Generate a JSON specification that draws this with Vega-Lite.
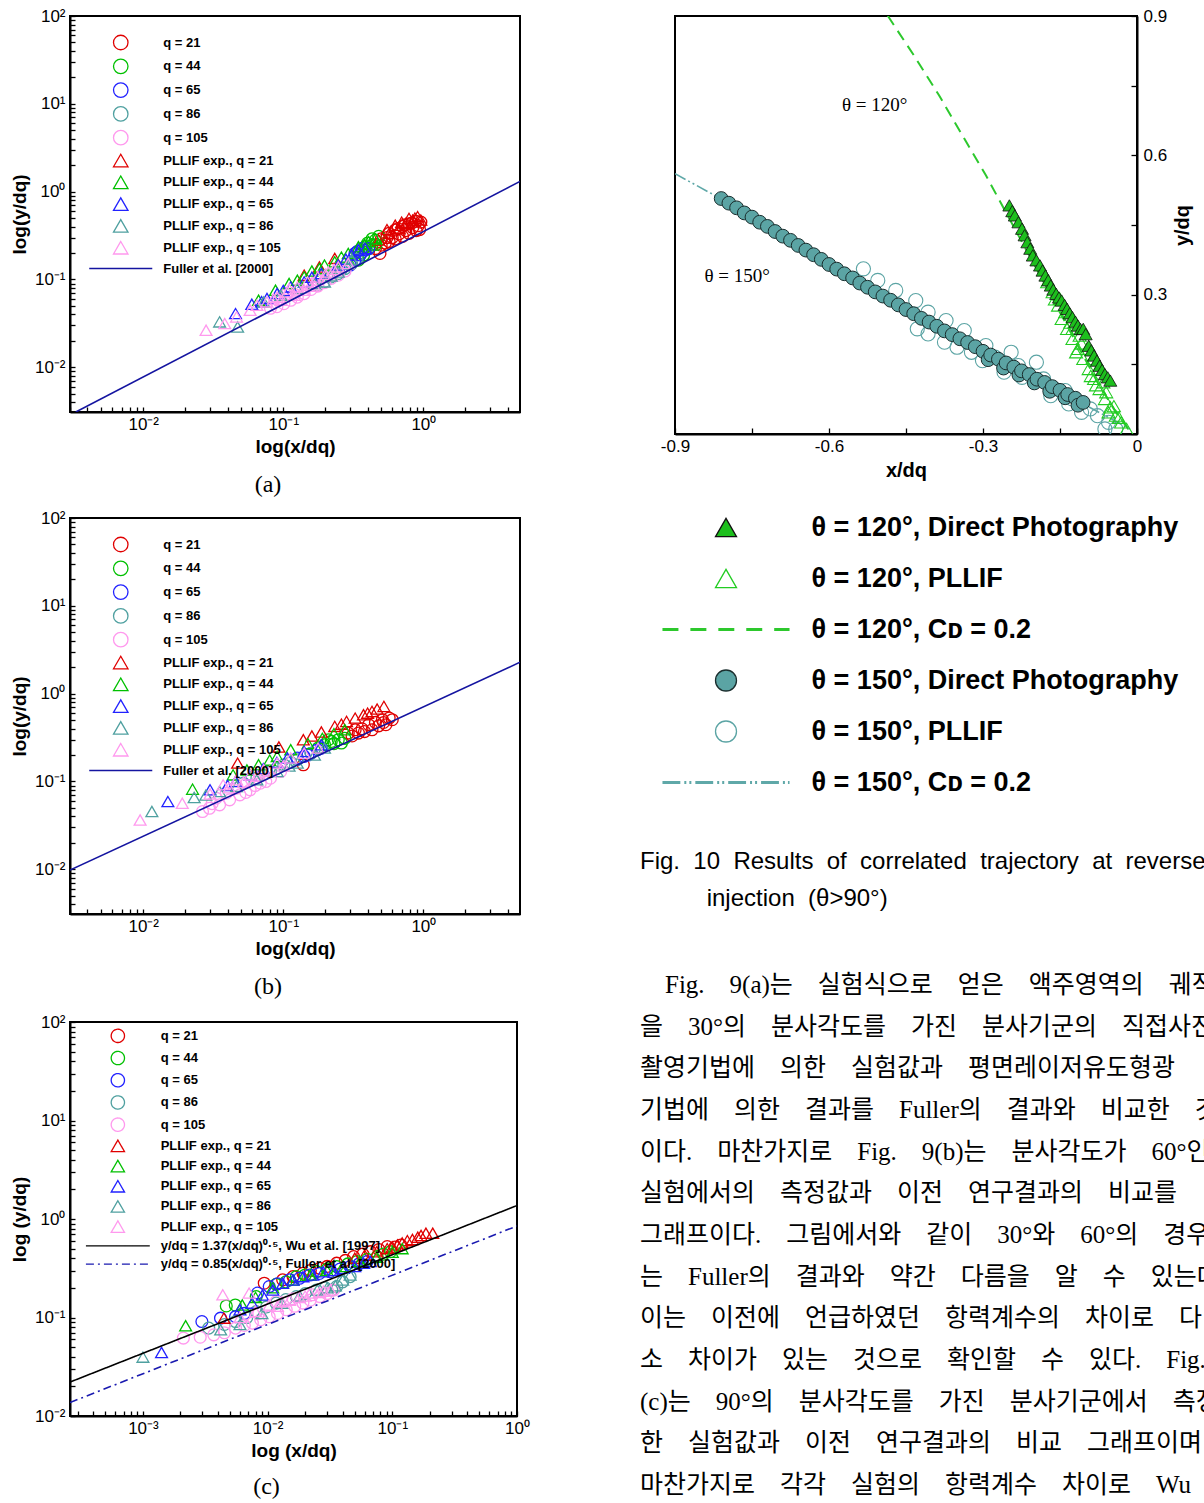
{
"$schema":"https://vega.github.io/schema/vega-lite/v6.json",
"background":"white",
"autosize":{"type":"none"},
"padding":{"left":70,"top":16,"right":1134,"bottom":1487},
"columns":2,
"align":"each",
"bounds":"flush",
"spacing":{"row":84,"column":155},
"resolve":{"scale":{"x":"independent","y":"independent","color":"independent","shape":"independent","fill":"independent","stroke":"independent","strokeDash":"independent"},"legend":{"color":"independent","shape":"independent","fill":"independent","stroke":"independent","strokeDash":"independent"}},
"datasets":{
"pa":[
{"s":"c21","x":0.455,"y":0.225},{"s":"c21","x":0.49,"y":0.198},{"s":"c21","x":0.5,"y":0.246},{"s":"c21","x":0.5,"y":0.29},{"s":"c21","x":0.535,"y":0.26},{"s":"c21","x":0.55,"y":0.3},{"s":"c21","x":0.57,"y":0.27},{"s":"c21","x":0.57,"y":0.335},{"s":"c21","x":0.6,"y":0.3},{"s":"c21","x":0.63,"y":0.29},{"s":"c21","x":0.63,"y":0.366},{"s":"c21","x":0.66,"y":0.38},{"s":"c21","x":0.67,"y":0.33},{"s":"c21","x":0.71,"y":0.31},{"s":"c21","x":0.71,"y":0.4},{"s":"c21","x":0.74,"y":0.42},{"s":"c21","x":0.75,"y":0.36},{"s":"c21","x":0.79,"y":0.335},{"s":"c21","x":0.79,"y":0.43},{"s":"c21","x":0.83,"y":0.44},{"s":"c21","x":0.84,"y":0.39},{"s":"c21","x":0.89,"y":0.36},{"s":"c21","x":0.89,"y":0.46},{"s":"c21","x":0.92,"y":0.41},{"s":"c21","x":0.94,"y":0.37},{"s":"c21","x":0.96,"y":0.45},
{"s":"c44","x":0.344,"y":0.166},{"s":"c44","x":0.36,"y":0.2},{"s":"c44","x":0.375,"y":0.19},{"s":"c44","x":0.385,"y":0.236},{"s":"c44","x":0.4,"y":0.26},{"s":"c44","x":0.407,"y":0.225},{"s":"c44","x":0.43,"y":0.247},{"s":"c44","x":0.43,"y":0.29},{"s":"c44","x":0.455,"y":0.281},{"s":"c44","x":0.46,"y":0.25},{"s":"c44","x":0.48,"y":0.31},
{"s":"c65","x":0.3,"y":0.146},{"s":"c65","x":0.325,"y":0.166},{"s":"c65","x":0.325,"y":0.198},{"s":"c65","x":0.34,"y":0.21},{"s":"c65","x":0.354,"y":0.19},{"s":"c65","x":0.365,"y":0.225},{"s":"c65","x":0.385,"y":0.216},{"s":"c65","x":0.407,"y":0.225},
{"s":"c86","x":0.176,"y":0.086},{"s":"c86","x":0.197,"y":0.094},{"s":"c86","x":0.22,"y":0.107},{"s":"c86","x":0.247,"y":0.117},{"s":"c86","x":0.26,"y":0.13},{"s":"c86","x":0.276,"y":0.133},{"s":"c86","x":0.308,"y":0.152},{"s":"c86","x":0.335,"y":0.17},
{"s":"c105","x":0.081,"y":0.047},{"s":"c105","x":0.09,"y":0.049},{"s":"c105","x":0.095,"y":0.06},{"s":"c105","x":0.101,"y":0.053},{"s":"c105","x":0.107,"y":0.069},{"s":"c105","x":0.113,"y":0.058},{"s":"c105","x":0.12,"y":0.068},{"s":"c105","x":0.126,"y":0.063},{"s":"c105","x":0.126,"y":0.0755},{"s":"c105","x":0.141,"y":0.069},{"s":"c105","x":0.149,"y":0.086},{"s":"c105","x":0.158,"y":0.077},{"s":"c105","x":0.165,"y":0.09},{"s":"c105","x":0.176,"y":0.084},{"s":"c105","x":0.176,"y":0.098},{"s":"c105","x":0.197,"y":0.092},{"s":"c105","x":0.21,"y":0.112},{"s":"c105","x":0.22,"y":0.103},{"s":"c105","x":0.247,"y":0.112},{"s":"c105","x":0.276,"y":0.125},
{"s":"t21","x":0.141,"y":0.112},{"s":"t21","x":0.181,"y":0.139},{"s":"t21","x":0.233,"y":0.174},{"s":"t21","x":0.48,"y":0.281},{"s":"t21","x":0.55,"y":0.37},{"s":"t21","x":0.57,"y":0.335},{"s":"t21","x":0.63,"y":0.415},{"s":"t21","x":0.672,"y":0.38},{"s":"t21","x":0.7,"y":0.45},{"s":"t21","x":0.75,"y":0.435},{"s":"t21","x":0.79,"y":0.497},{"s":"t21","x":0.84,"y":0.475},{"s":"t21","x":0.87,"y":0.5},{"s":"t21","x":0.91,"y":0.52},{"s":"t21","x":0.96,"y":0.475},
{"s":"t44","x":0.0666,"y":0.058},{"s":"t44","x":0.088,"y":0.0755},{"s":"t44","x":0.11,"y":0.09},{"s":"t44","x":0.126,"y":0.098},{"s":"t44","x":0.141,"y":0.107},{"s":"t44","x":0.16,"y":0.125},{"s":"t44","x":0.181,"y":0.133},{"s":"t44","x":0.197,"y":0.146},{"s":"t44","x":0.233,"y":0.159},{"s":"t44","x":0.26,"y":0.18},{"s":"t44","x":0.291,"y":0.198},{"s":"t44","x":0.344,"y":0.236},{"s":"t44","x":0.38,"y":0.25},{"s":"t44","x":0.407,"y":0.27},{"s":"t44","x":0.455,"y":0.29},
{"s":"t65","x":0.0456,"y":0.0409},{"s":"t65","x":0.0596,"y":0.0523},{"s":"t65","x":0.07,"y":0.056},{"s":"t65","x":0.0765,"y":0.0607},{"s":"t65","x":0.0904,"y":0.0692},{"s":"t65","x":0.1,"y":0.075},{"s":"t65","x":0.113,"y":0.0824},{"s":"t65","x":0.141,"y":0.094},{"s":"t65","x":0.16,"y":0.106},{"s":"t65","x":0.187,"y":0.117},{"s":"t65","x":0.247,"y":0.146},{"s":"t65","x":0.28,"y":0.17},{"s":"t65","x":0.308,"y":0.19},{"s":"t65","x":0.344,"y":0.216},{"s":"t65","x":0.385,"y":0.225},
{"s":"t86","x":0.0351,"y":0.0329},{"s":"t86","x":0.0472,"y":0.0288},{"s":"t86","x":0.0725,"y":0.0556},{"s":"t86","x":0.096,"y":0.0663},{"s":"t86","x":0.126,"y":0.079},{"s":"t86","x":0.167,"y":0.09},{"s":"t86","x":0.197,"y":0.094},{"s":"t86","x":0.22,"y":0.11},{"s":"t86","x":0.247,"y":0.122},{"s":"t86","x":0.29,"y":0.15},{"s":"t86","x":0.308,"y":0.17},
{"s":"t105","x":0.0281,"y":0.0264},{"s":"t105","x":0.0382,"y":0.0315},{"s":"t105","x":0.0464,"y":0.0375},{"s":"t105","x":0.058,"y":0.0447},{"s":"t105","x":0.0648,"y":0.0509},{"s":"t105","x":0.0765,"y":0.0556},{"s":"t105","x":0.085,"y":0.06},{"s":"t105","x":0.0904,"y":0.063},{"s":"t105","x":0.096,"y":0.058},{"s":"t105","x":0.107,"y":0.072},{"s":"t105","x":0.11,"y":0.078},{"s":"t105","x":0.12,"y":0.066},{"s":"t105","x":0.126,"y":0.0824},{"s":"t105","x":0.141,"y":0.0755},{"s":"t105","x":0.149,"y":0.094},{"s":"t105","x":0.167,"y":0.084},{"s":"t105","x":0.176,"y":0.107},{"s":"t105","x":0.2,"y":0.115},{"s":"t105","x":0.21,"y":0.122},{"s":"t105","x":0.23,"y":0.13},{"s":"t105","x":0.247,"y":0.139},{"s":"t105","x":0.291,"y":0.152}
],
"la":[{"s":"f","x":0.0033,"y":0.0031},{"s":"f","x":4.9,"y":1.31}],
"pb":[
{"s":"c21","x":0.139,"y":0.155},{"s":"c21","x":0.291,"y":0.356},{"s":"c21","x":0.31,"y":0.33},{"s":"c21","x":0.326,"y":0.388},{"s":"c21","x":0.344,"y":0.356},{"s":"c21","x":0.365,"y":0.398},{"s":"c21","x":0.38,"y":0.37},{"s":"c21","x":0.407,"y":0.443},{"s":"c21","x":0.43,"y":0.388},{"s":"c21","x":0.455,"y":0.471},{"s":"c21","x":0.48,"y":0.43},{"s":"c21","x":0.51,"y":0.505},{"s":"c21","x":0.52,"y":0.47},{"s":"c21","x":0.54,"y":0.443},{"s":"c21","x":0.57,"y":0.527},{"s":"c21","x":0.6,"y":0.505},
{"s":"c44","x":0.177,"y":0.24},{"s":"c44","x":0.197,"y":0.262},{"s":"c44","x":0.21,"y":0.299},{"s":"c44","x":0.22,"y":0.286},{"s":"c44","x":0.23,"y":0.27},{"s":"c44","x":0.247,"y":0.299},{"s":"c44","x":0.26,"y":0.274},{"s":"c44","x":0.275,"y":0.31},
{"s":"c65","x":0.126,"y":0.185},{"s":"c65","x":0.141,"y":0.193},{"s":"c65","x":0.15,"y":0.2},{"s":"c65","x":0.158,"y":0.21},{"s":"c65","x":0.176,"y":0.23},{"s":"c65","x":0.187,"y":0.24},
{"s":"c86","x":0.052,"y":0.0957},{"s":"c86","x":0.0648,"y":0.109},{"s":"c86","x":0.072,"y":0.12},{"s":"c86","x":0.081,"y":0.13},{"s":"c86","x":0.09,"y":0.14},{"s":"c86","x":0.101,"y":0.155},{"s":"c86","x":0.113,"y":0.165},{"s":"c86","x":0.126,"y":0.177},{"s":"c86","x":0.158,"y":0.21},
{"s":"c105","x":0.0265,"y":0.0455},{"s":"c105","x":0.0297,"y":0.0496},{"s":"c105","x":0.031,"y":0.056},{"s":"c105","x":0.0332,"y":0.0645},{"s":"c105","x":0.0351,"y":0.0542},{"s":"c105","x":0.0392,"y":0.0736},{"s":"c105","x":0.0414,"y":0.0618},{"s":"c105","x":0.0464,"y":0.084},{"s":"c105","x":0.049,"y":0.0705},{"s":"c105","x":0.054,"y":0.075},{"s":"c105","x":0.058,"y":0.0804},{"s":"c105","x":0.063,"y":0.09},{"s":"c105","x":0.0685,"y":0.0957},{"s":"c105","x":0.075,"y":0.1},{"s":"c105","x":0.081,"y":0.109},{"s":"c105","x":0.0957,"y":0.13},
{"s":"t21","x":0.0472,"y":0.162},{"s":"t21","x":0.093,"y":0.247},{"s":"t21","x":0.139,"y":0.299},{"s":"t21","x":0.16,"y":0.33},{"s":"t21","x":0.187,"y":0.366},{"s":"t21","x":0.233,"y":0.424},{"s":"t21","x":0.26,"y":0.45},{"s":"t21","x":0.283,"y":0.483},{"s":"t21","x":0.326,"y":0.527},{"s":"t21","x":0.374,"y":0.575},{"s":"t21","x":0.4,"y":0.6},{"s":"t21","x":0.43,"y":0.628},{"s":"t21","x":0.468,"y":0.668},{"s":"t21","x":0.523,"y":0.716},
{"s":"t44","x":0.0225,"y":0.0818},{"s":"t44","x":0.0438,"y":0.119},{"s":"t44","x":0.055,"y":0.135},{"s":"t44","x":0.0666,"y":0.155},{"s":"t44","x":0.08,"y":0.175},{"s":"t44","x":0.0904,"y":0.193},{"s":"t44","x":0.113,"y":0.23},{"s":"t44","x":0.15,"y":0.27},{"s":"t44","x":0.19,"y":0.31},{"s":"t44","x":0.23,"y":0.35},{"s":"t44","x":0.275,"y":0.389},
{"s":"t65","x":0.015,"y":0.0591},{"s":"t65","x":0.03,"y":0.0804},{"s":"t65","x":0.04,"y":0.09},{"s":"t65","x":0.0456,"y":0.1},{"s":"t65","x":0.058,"y":0.119},{"s":"t65","x":0.072,"y":0.14},{"s":"t65","x":0.09,"y":0.165},{"s":"t65","x":0.107,"y":0.185},{"s":"t65","x":0.141,"y":0.22},{"s":"t65","x":0.187,"y":0.262},
{"s":"t86","x":0.01153,"y":0.0455},{"s":"t86","x":0.0231,"y":0.0657},{"s":"t86","x":0.028,"y":0.07},{"s":"t86","x":0.0351,"y":0.0769},{"s":"t86","x":0.0464,"y":0.088},{"s":"t86","x":0.0648,"y":0.1045},{"s":"t86","x":0.0904,"y":0.13},{"s":"t86","x":0.11,"y":0.15},{"s":"t86","x":0.126,"y":0.162},{"s":"t86","x":0.167,"y":0.2},{"s":"t86","x":0.197,"y":0.24},
{"s":"t105","x":0.0095,"y":0.0365},{"s":"t105","x":0.019,"y":0.0566},{"s":"t105","x":0.03,"y":0.072},{"s":"t105","x":0.0372,"y":0.0916},{"s":"t105","x":0.041,"y":0.085},{"s":"t105","x":0.0464,"y":0.1045},{"s":"t105","x":0.052,"y":0.098},{"s":"t105","x":0.058,"y":0.119},{"s":"t105","x":0.065,"y":0.115},{"s":"t105","x":0.0725,"y":0.136},{"s":"t105","x":0.08,"y":0.13},{"s":"t105","x":0.0904,"y":0.162},{"s":"t105","x":0.1,"y":0.15},{"s":"t105","x":0.113,"y":0.185},{"s":"t105","x":0.141,"y":0.21},{"s":"t105","x":0.177,"y":0.24}
],
"lb":[{"s":"f","x":0.003,"y":0.0098},{"s":"f","x":4.9,"y":2.28}],
"pc":[
{"s":"c21","x":0.0094,"y":0.223},{"s":"c21","x":0.0132,"y":0.241},{"s":"c21","x":0.016,"y":0.26},{"s":"c21","x":0.0192,"y":0.281},{"s":"c21","x":0.022,"y":0.3},{"s":"c21","x":0.0262,"y":0.316},{"s":"c21","x":0.03,"y":0.33},{"s":"c21","x":0.0358,"y":0.356},{"s":"c21","x":0.042,"y":0.38},{"s":"c21","x":0.0489,"y":0.415},{"s":"c21","x":0.058,"y":0.44},{"s":"c21","x":0.0667,"y":0.466},{"s":"c21","x":0.078,"y":0.49},{"s":"c21","x":0.091,"y":0.525},{"s":"c21","x":0.105,"y":0.52},{"s":"c21","x":0.117,"y":0.545},
{"s":"c44","x":0.00466,"y":0.131},{"s":"c44","x":0.0055,"y":0.134},{"s":"c44","x":0.0081,"y":0.163},{"s":"c44","x":0.0117,"y":0.217},{"s":"c44","x":0.014,"y":0.23},{"s":"c44","x":0.017,"y":0.26},{"s":"c44","x":0.02,"y":0.27},{"s":"c44","x":0.0246,"y":0.293},{"s":"c44","x":0.03,"y":0.31},{"s":"c44","x":0.0358,"y":0.329},{"s":"c44","x":0.044,"y":0.35},{"s":"c44","x":0.052,"y":0.37},{"s":"c44","x":0.063,"y":0.39},{"s":"c44","x":0.0755,"y":0.415},{"s":"c44","x":0.085,"y":0.44},{"s":"c44","x":0.0968,"y":0.466},
{"s":"c65","x":0.00297,"y":0.091},{"s":"c65","x":0.00419,"y":0.0985},{"s":"c65","x":0.00553,"y":0.102},{"s":"c65","x":0.0065,"y":0.11},{"s":"c65","x":0.0083,"y":0.177},{"s":"c65","x":0.0103,"y":0.206},{"s":"c65","x":0.012,"y":0.22},{"s":"c65","x":0.015,"y":0.241},{"s":"c65","x":0.018,"y":0.25},{"s":"c65","x":0.0218,"y":0.27},{"s":"c65","x":0.026,"y":0.28},{"s":"c65","x":0.0316,"y":0.292},{"s":"c65","x":0.038,"y":0.31},{"s":"c65","x":0.0459,"y":0.329},{"s":"c65","x":0.054,"y":0.35},{"s":"c65","x":0.0627,"y":0.37},
{"s":"c86","x":0.00337,"y":0.078},{"s":"c86","x":0.0045,"y":0.085},{"s":"c86","x":0.00553,"y":0.091},{"s":"c86","x":0.0068,"y":0.1},{"s":"c86","x":0.0081,"y":0.115},{"s":"c86","x":0.0098,"y":0.128},{"s":"c86","x":0.0117,"y":0.14},{"s":"c86","x":0.014,"y":0.152},{"s":"c86","x":0.017,"y":0.163},{"s":"c86","x":0.02,"y":0.175},{"s":"c86","x":0.0246,"y":0.19},{"s":"c86","x":0.029,"y":0.2},{"s":"c86","x":0.0327,"y":0.19},{"s":"c86","x":0.0358,"y":0.206},{"s":"c86","x":0.04,"y":0.23},{"s":"c86","x":0.0459,"y":0.26},
{"s":"c105","x":0.00211,"y":0.0618},{"s":"c105","x":0.00288,"y":0.0631},{"s":"c105","x":0.0037,"y":0.0667},{"s":"c105","x":0.0045,"y":0.07},{"s":"c105","x":0.00553,"y":0.078},{"s":"c105","x":0.0065,"y":0.083},{"s":"c105","x":0.00755,"y":0.0877},{"s":"c105","x":0.0085,"y":0.11},{"s":"c105","x":0.0088,"y":0.095},{"s":"c105","x":0.0103,"y":0.102},{"s":"c105","x":0.0117,"y":0.145},{"s":"c105","x":0.012,"y":0.11},{"s":"c105","x":0.0141,"y":0.12},{"s":"c105","x":0.016,"y":0.155},{"s":"c105","x":0.0165,"y":0.13},{"s":"c105","x":0.0192,"y":0.14},{"s":"c105","x":0.022,"y":0.15},{"s":"c105","x":0.023,"y":0.17},{"s":"c105","x":0.0262,"y":0.163},{"s":"c105","x":0.03,"y":0.175},{"s":"c105","x":0.0337,"y":0.19},
{"s":"t21","x":0.00446,"y":0.0985},{"s":"t21","x":0.05,"y":0.4},{"s":"t21","x":0.06,"y":0.43},{"s":"t21","x":0.075,"y":0.466},{"s":"t21","x":0.091,"y":0.5},{"s":"t21","x":0.1,"y":0.52},{"s":"t21","x":0.11,"y":0.545},{"s":"t21","x":0.12,"y":0.57},{"s":"t21","x":0.132,"y":0.603},{"s":"t21","x":0.145,"y":0.62},{"s":"t21","x":0.16,"y":0.652},{"s":"t21","x":0.17,"y":0.68},{"s":"t21","x":0.186,"y":0.716},{"s":"t21","x":0.211,"y":0.716},
{"s":"t44","x":0.0022,"y":0.0824},{"s":"t44","x":0.00626,"y":0.134},{"s":"t44","x":0.008,"y":0.16},{"s":"t44","x":0.011,"y":0.2},{"s":"t44","x":0.016,"y":0.24},{"s":"t44","x":0.022,"y":0.27},{"s":"t44","x":0.03,"y":0.3},{"s":"t44","x":0.04,"y":0.33},{"s":"t44","x":0.055,"y":0.37},{"s":"t44","x":0.075,"y":0.41},{"s":"t44","x":0.1,"y":0.46},{"s":"t44","x":0.12,"y":0.5},
{"s":"t65","x":0.00141,"y":0.0441},{"s":"t65","x":0.006,"y":0.12},{"s":"t65","x":0.0075,"y":0.14},{"s":"t65","x":0.0091,"y":0.169},{"s":"t65","x":0.011,"y":0.19},{"s":"t65","x":0.0132,"y":0.223},{"s":"t65","x":0.016,"y":0.24},{"s":"t65","x":0.0192,"y":0.26},{"s":"t65","x":0.023,"y":0.27},{"s":"t65","x":0.0279,"y":0.292},{"s":"t65","x":0.034,"y":0.3},{"s":"t65","x":0.0406,"y":0.316},{"s":"t65","x":0.05,"y":0.33},{"s":"t65","x":0.0589,"y":0.356},{"s":"t65","x":0.0667,"y":0.37},
{"s":"t86","x":0.001,"y":0.0396},{"s":"t86","x":0.0042,"y":0.075},{"s":"t86","x":0.006,"y":0.085},{"s":"t86","x":0.009,"y":0.11},{"s":"t86","x":0.013,"y":0.14},{"s":"t86","x":0.018,"y":0.165},{"s":"t86","x":0.025,"y":0.19},{"s":"t86","x":0.03,"y":0.2},{"s":"t86","x":0.035,"y":0.21},{"s":"t86","x":0.04,"y":0.24},{"s":"t86","x":0.0459,"y":0.27},
{"s":"t105","x":0.00437,"y":0.17},{"s":"t105","x":0.006,"y":0.1},{"s":"t105","x":0.0071,"y":0.177},{"s":"t105","x":0.008,"y":0.115},{"s":"t105","x":0.0103,"y":0.134},{"s":"t105","x":0.012,"y":0.13},{"s":"t105","x":0.013,"y":0.145},{"s":"t105","x":0.015,"y":0.15},{"s":"t105","x":0.018,"y":0.16},{"s":"t105","x":0.02,"y":0.165},{"s":"t105","x":0.0218,"y":0.177},{"s":"t105","x":0.026,"y":0.18},{"s":"t105","x":0.028,"y":0.185},{"s":"t105","x":0.032,"y":0.19}
],
"lc":[{"s":"w","x":0.00026,"y":0.0221},{"s":"w","x":1,"y":1.37},{"s":"f","x":0.00026,"y":0.0137},{"s":"f","x":1,"y":0.85}],
"ra":[
{"s":"A","x":-0.2487,"y":0.4922},{"s":"A","x":-0.243,"y":0.48},{"s":"A","x":-0.238,"y":0.4707},{"s":"A","x":-0.231,"y":0.456},{"s":"A","x":-0.224,"y":0.442},{"s":"A","x":-0.219,"y":0.428},{"s":"A","x":-0.2136,"y":0.413},{"s":"A","x":-0.208,"y":0.399},{"s":"A","x":-0.203,"y":0.3845},{"s":"A","x":-0.196,"y":0.374},{"s":"A","x":-0.189,"y":0.363},{"s":"A","x":-0.184,"y":0.352},{"s":"A","x":-0.1784,"y":0.3413},{"s":"A","x":-0.173,"y":0.331},{"s":"A","x":-0.168,"y":0.3198},{"s":"A","x":-0.163,"y":0.311},{"s":"A","x":-0.1574,"y":0.3018},{"s":"A","x":-0.152,"y":0.294},{"s":"A","x":-0.1468,"y":0.2874},{"s":"A","x":-0.141,"y":0.278},{"s":"A","x":-0.1363,"y":0.2695},{"s":"A","x":-0.131,"y":0.26},{"s":"A","x":-0.1257,"y":0.2515},{"s":"A","x":-0.12,"y":0.242},{"s":"A","x":-0.1152,"y":0.2335},{"s":"A","x":-0.11,"y":0.226},{"s":"A","x":-0.1047,"y":0.2264},{"s":"A","x":-0.1,"y":0.215},{"s":"A","x":-0.094,"y":0.19},{"s":"A","x":-0.089,"y":0.18},{"s":"A","x":-0.0836,"y":0.169},{"s":"A","x":-0.078,"y":0.158},{"s":"A","x":-0.073,"y":0.147},{"s":"A","x":-0.068,"y":0.138},{"s":"A","x":-0.0625,"y":0.129},{"s":"A","x":-0.057,"y":0.122},{"s":"A","x":-0.052,"y":0.115}
],
"rb":[
{"s":"B","x":-0.175,"y":0.327},{"s":"B","x":-0.1644,"y":0.3054},{"s":"B","x":-0.16,"y":0.29},{"s":"B","x":-0.1503,"y":0.291},{"s":"B","x":-0.1538,"y":0.2767},{"s":"B","x":-0.1398,"y":0.2623},{"s":"B","x":-0.1468,"y":0.2479},{"s":"B","x":-0.13,"y":0.24},{"s":"B","x":-0.1363,"y":0.2264},{"s":"B","x":-0.1257,"y":0.2264},{"s":"B","x":-0.1117,"y":0.212},{"s":"B","x":-0.1257,"y":0.2048},{"s":"B","x":-0.108,"y":0.195},{"s":"B","x":-0.1152,"y":0.1832},{"s":"B","x":-0.0977,"y":0.1832},{"s":"B","x":-0.1187,"y":0.176},{"s":"B","x":-0.0871,"y":0.1617},{"s":"B","x":-0.1047,"y":0.1617},{"s":"B","x":-0.0941,"y":0.1401},{"s":"B","x":-0.0766,"y":0.1401},{"s":"B","x":-0.09,"y":0.125},{"s":"B","x":-0.0836,"y":0.1186},{"s":"B","x":-0.0655,"y":0.1114},{"s":"B","x":-0.08,"y":0.105},{"s":"B","x":-0.073,"y":0.097},{"s":"B","x":-0.06,"y":0.09},{"s":"B","x":-0.0625,"y":0.0755},{"s":"B","x":-0.045,"y":0.06},{"s":"B","x":-0.052,"y":0.0575},{"s":"B","x":-0.0555,"y":0.0467},{"s":"B","x":-0.0414,"y":0.0395},{"s":"B","x":-0.035,"y":0.035},{"s":"B","x":-0.0309,"y":0.0252},{"s":"B","x":-0.0203,"y":0.0108}
],
"rc":[{"x":-0.4855,"y":0.9004},{"x":-0.4349,"y":0.8156},{"x":-0.3857,"y":0.7294},{"x":-0.3365,"y":0.636},{"x":-0.2944,"y":0.557},{"x":-0.2557,"y":0.478},{"x":-0.2171,"y":0.399},{"x":-0.1819,"y":0.327},{"x":-0.1468,"y":0.255},{"x":-0.1117,"y":0.183},{"x":-0.0766,"y":0.111},{"x":-0.0414,"y":0.047},{"x":-0.0098,"y":0.0}],
"rd":[
{"s":"D","x":-0.81,"y":0.507},{"s":"D","x":-0.795,"y":0.497},{"s":"D","x":-0.78,"y":0.487},{"s":"D","x":-0.765,"y":0.476},{"s":"D","x":-0.75,"y":0.467},{"s":"D","x":-0.735,"y":0.456},{"s":"D","x":-0.72,"y":0.447},{"s":"D","x":-0.705,"y":0.436},{"s":"D","x":-0.69,"y":0.426},{"s":"D","x":-0.675,"y":0.417},{"s":"D","x":-0.66,"y":0.406},{"s":"D","x":-0.645,"y":0.396},{"s":"D","x":-0.63,"y":0.386},{"s":"D","x":-0.615,"y":0.376},{"s":"D","x":-0.6,"y":0.365},{"s":"D","x":-0.585,"y":0.355},{"s":"D","x":-0.57,"y":0.345},{"s":"D","x":-0.554,"y":0.336},{"s":"D","x":-0.54,"y":0.325},{"s":"D","x":-0.525,"y":0.316},{"s":"D","x":-0.51,"y":0.306},{"s":"D","x":-0.495,"y":0.297},{"s":"D","x":-0.48,"y":0.288},{"s":"D","x":-0.465,"y":0.278},{"s":"D","x":-0.45,"y":0.268},{"s":"D","x":-0.435,"y":0.259},{"s":"D","x":-0.42,"y":0.249},{"s":"D","x":-0.405,"y":0.241},{"s":"D","x":-0.39,"y":0.232},{"s":"D","x":-0.375,"y":0.222},{"s":"D","x":-0.36,"y":0.214},{"s":"D","x":-0.345,"y":0.205},{"s":"D","x":-0.33,"y":0.197},{"s":"D","x":-0.315,"y":0.188},{"s":"D","x":-0.3,"y":0.178},{"s":"D","x":-0.29,"y":0.16},{"s":"D","x":-0.285,"y":0.17},{"s":"D","x":-0.27,"y":0.161},{"s":"D","x":-0.26,"y":0.142},{"s":"D","x":-0.255,"y":0.153},{"s":"D","x":-0.24,"y":0.144},{"s":"D","x":-0.23,"y":0.127},{"s":"D","x":-0.225,"y":0.136},{"s":"D","x":-0.21,"y":0.128},{"s":"D","x":-0.2,"y":0.11},{"s":"D","x":-0.195,"y":0.118},{"s":"D","x":-0.18,"y":0.111},{"s":"D","x":-0.17,"y":0.092},{"s":"D","x":-0.165,"y":0.102},{"s":"D","x":-0.15,"y":0.094},{"s":"D","x":-0.14,"y":0.078},{"s":"D","x":-0.135,"y":0.085},{"s":"D","x":-0.12,"y":0.077},{"s":"D","x":-0.115,"y":0.062},{"s":"D","x":-0.105,"y":0.068}
],
"re":[
{"s":"E","x":-0.533,"y":0.3557},{"s":"E","x":-0.505,"y":0.3306},{"s":"E","x":-0.47,"y":0.309},{"s":"E","x":-0.431,"y":0.2874},{"s":"E","x":-0.407,"y":0.2623},{"s":"E","x":-0.372,"y":0.2443},{"s":"E","x":-0.428,"y":0.2264},{"s":"E","x":-0.407,"y":0.2156},{"s":"E","x":-0.375,"y":0.1976},{"s":"E","x":-0.3506,"y":0.1868},{"s":"E","x":-0.3365,"y":0.2228},{"s":"E","x":-0.3225,"y":0.176},{"s":"E","x":-0.301,"y":0.158},{"s":"E","x":-0.2944,"y":0.1904},{"s":"E","x":-0.2768,"y":0.1653},{"s":"E","x":-0.259,"y":0.133},{"s":"E","x":-0.2452,"y":0.176},{"s":"E","x":-0.2311,"y":0.1473},{"s":"E","x":-0.224,"y":0.122},{"s":"E","x":-0.196,"y":0.1545},{"s":"E","x":-0.182,"y":0.1186},{"s":"E","x":-0.168,"y":0.0826},{"s":"E","x":-0.161,"y":0.097},{"s":"E","x":-0.14,"y":0.0934},{"s":"E","x":-0.133,"y":0.0647},{"s":"E","x":-0.126,"y":0.0755},{"s":"E","x":-0.108,"y":0.0467},{"s":"E","x":-0.091,"y":0.0539},{"s":"E","x":-0.077,"y":0.0395},{"s":"E","x":-0.0625,"y":0.0108},{"s":"E","x":-0.0555,"y":0.0252},{"s":"E","x":-0.0414,"y":0.0108}
],
"rf":[{"x":-0.9,"y":0.5605},{"x":-0.8108,"y":0.5066},{"x":-0.6878,"y":0.4204},{"x":-0.5543,"y":0.3341},{"x":-0.4138,"y":0.2443},{"x":-0.2663,"y":0.1545},{"x":-0.1047,"y":0.0647},{"x":-0.0133,"y":0.0108}],
"rleg":[{"s":"C"},{"s":"F"}],
"ann":[{"x":-0.511,"y":0.708,"t":"θ = 120°"},{"x":-0.779,"y":0.34,"t":"θ = 150°"}],
"para":[
{"n":1,"t":"\u200b\u00a0\u00a0\u00a0\u00a0Fig.\u00a0\u00a0\u00a0 9(a)는\u00a0\u00a0\u00a0 실험식으로\u00a0\u00a0\u00a0 얻은\u00a0\u00a0\u00a0 액주영역의\u00a0\u00a0\u00a0 궤적"},
{"n":2,"t":"을\u00a0\u00a0\u00a0 30°의\u00a0\u00a0\u00a0 분사각도를\u00a0\u00a0\u00a0 가진\u00a0\u00a0\u00a0 분사기군의\u00a0\u00a0\u00a0 직접사진"},
{"n":3,"t":"촬영기법에\u00a0\u00a0\u00a0 의한\u00a0\u00a0\u00a0 실험값과\u00a0\u00a0\u00a0 평면레이저유도형광"},
{"n":4,"t":"기법에\u00a0\u00a0\u00a0 의한\u00a0\u00a0\u00a0 결과를\u00a0\u00a0\u00a0 Fuller의\u00a0\u00a0\u00a0 결과와\u00a0\u00a0\u00a0 비교한\u00a0\u00a0\u00a0 것"},
{"n":5,"t":"이다.\u00a0\u00a0\u00a0 마찬가지로\u00a0\u00a0\u00a0 Fig.\u00a0\u00a0\u00a0 9(b)는\u00a0\u00a0\u00a0 분사각도가\u00a0\u00a0\u00a0 60°인"},
{"n":6,"t":"실험에서의\u00a0\u00a0\u00a0 측정값과\u00a0\u00a0\u00a0 이전\u00a0\u00a0\u00a0 연구결과의\u00a0\u00a0\u00a0 비교를"},
{"n":7,"t":"그래프이다.\u00a0\u00a0\u00a0 그림에서와\u00a0\u00a0\u00a0 같이\u00a0\u00a0\u00a0 30°와\u00a0\u00a0\u00a0 60°의\u00a0\u00a0\u00a0 경우"},
{"n":8,"t":"는\u00a0\u00a0\u00a0 Fuller의\u00a0\u00a0\u00a0 결과와\u00a0\u00a0\u00a0 약간\u00a0\u00a0\u00a0 다름을\u00a0\u00a0\u00a0 알\u00a0\u00a0\u00a0 수\u00a0\u00a0\u00a0 있는데"},
{"n":9,"t":"이는\u00a0\u00a0\u00a0 이전에\u00a0\u00a0\u00a0 언급하였던\u00a0\u00a0\u00a0 항력계수의\u00a0\u00a0\u00a0 차이로\u00a0\u00a0\u00a0 다"},
{"n":10,"t":"소\u00a0\u00a0\u00a0 차이가\u00a0\u00a0\u00a0 있는\u00a0\u00a0\u00a0 것으로\u00a0\u00a0\u00a0 확인할\u00a0\u00a0\u00a0 수\u00a0\u00a0\u00a0 있다.\u00a0\u00a0\u00a0 Fig.\u00a0\u00a0\u00a0 9"},
{"n":11,"t":"(c)는\u00a0\u00a0\u00a0 90°의\u00a0\u00a0\u00a0 분사각도를\u00a0\u00a0\u00a0 가진\u00a0\u00a0\u00a0 분사기군에서\u00a0\u00a0\u00a0 측정"},
{"n":12,"t":"한\u00a0\u00a0\u00a0 실험값과\u00a0\u00a0\u00a0 이전\u00a0\u00a0\u00a0 연구결과의\u00a0\u00a0\u00a0 비교\u00a0\u00a0\u00a0 그래프이며"},
{"n":13,"t":"마찬가지로\u00a0\u00a0\u00a0 각각\u00a0\u00a0\u00a0 실험의\u00a0\u00a0\u00a0 항력계수\u00a0\u00a0\u00a0 차이로\u00a0\u00a0\u00a0 Wu"}
]
},
"concat":[
{
"width":450,"height":396,
"title":{"text":"(a)","orient":"bottom","anchor":"middle","frame":"group","dx":-27,"offset":17,"font":"Liberation Serif","fontSize":24,"fontWeight":"normal"},
"encoding":{
"x":{"field":"x","type":"quantitative","scale":{"type":"log","domain":[0.003,4.9],"nice":false},"axis":{"title":"log(x/dq)","values":[0.003,0.004,0.005,0.006,0.007,0.008,0.009,0.01,0.02,0.03,0.04,0.05,0.06,0.07,0.08,0.09,0.1,0.2,0.3,0.4,0.5,0.6,0.7,0.8,0.9,1,2,3,4],"labelExpr":"datum.value==0.001?'10⁻³':datum.value==0.01?'10⁻²':datum.value==0.1?'10⁻¹':datum.value==1?'10⁰':datum.value==10?'10¹':datum.value==100?'10²':''","tickSize":-5,"labelPadding":9,"titlePadding":5,"labelFlush":false,"labelOverlap":false}},
"y":{"field":"y","type":"quantitative","scale":{"type":"log","domain":[0.0031,100],"nice":false},"axis":{"title":"log(y/dq)","values":[0.004,0.005,0.006,0.007,0.008,0.009,0.01,0.02,0.03,0.04,0.05,0.06,0.07,0.08,0.09,0.1,0.2,0.3,0.4,0.5,0.6,0.7,0.8,0.9,1,2,3,4,5,6,7,8,9,10,20,30,40,50,60,70,80,90,100],"labelExpr":"datum.value==0.001?'10⁻³':datum.value==0.01?'10⁻²':datum.value==0.1?'10⁻¹':datum.value==1?'10⁰':datum.value==10?'10¹':datum.value==100?'10²':''","tickSize":-5,"labelPadding":10,"titlePadding":5,"labelFlush":false,"labelOverlap":false}},
"color":{"field":"s","type":"nominal","scale":{"domain":["c21","c44","c65","c86","c105","t21","t44","t65","t86","t105","f"],"range":["#E00000","#00C000","#2222FF","#4FA0A0","#FF99EE","#E00000","#00C000","#2222FF","#4FA0A0","#FF99EE","#1414A0"]},
"legend":{"title":null,"orient":"none","legendX":42.75,"legendY":18.5,"padding":0,"symbolSize":210,"symbolStrokeWidth":1.3,"rowPadding":3.8,"labelOffset":34.5,"labelFont":"Liberation Sans","labelFontWeight":"bold","labelFontSize":13,"labelColor":"black","labelLimit":500,
"labelExpr":"substring(datum.value,0,1)=='c' ? 'q = ' + substring(datum.value,1) : substring(datum.value,0,1)=='t' ? 'PLLIF exp., q = ' + substring(datum.value,1) : 'Fuller et al. [2000]'"}}
},
"layer":[
{"data":{"name":"pa"},"mark":{"type":"point","filled":false,"size":140,"strokeWidth":1.3,"opacity":1,"clip":true},"encoding":{"shape":{"field":"s","type":"nominal","scale":{"domain":["c21","c44","c65","c86","c105","t21","t44","t65","t86","t105","f"],"range":["circle","circle","circle","circle","circle","triangle-up","triangle-up","triangle-up","triangle-up","triangle-up","M-4.35,0H4.35"]}}}},
{"data":{"name":"la"},"mark":{"type":"line","strokeWidth":1.6,"clip":true},"encoding":{}}
]
},
{
"width":462,"height":418,
"encoding":{
"x":{"field":"x","type":"quantitative","scale":{"domain":[-0.9,0],"nice":false,"zero":false},"axis":{"title":"x/dq","titleFontSize":20,"values":[-0.9,-0.75,-0.6,-0.45,-0.3,-0.15,0],"labelExpr":"datum.value==-0.9?'-0.9':datum.value==-0.6?'-0.6':datum.value==-0.3?'-0.3':datum.value==0?'0':''","tickSize":-6,"labelPadding":10,"titlePadding":6,"labelFlush":false,"labelOverlap":false}},
"y":{"field":"y","type":"quantitative","scale":{"domain":[0,0.9],"nice":false,"zero":false},"axis":{"orient":"right","title":"y/dq","titleFontSize":20,"titleAngle":270,"titleBaseline":"top","values":[0,0.15,0.3,0.45,0.6,0.75,0.9],"labelExpr":"datum.value==0.3?'0.3':datum.value==0.6?'0.6':datum.value==0.9?'0.9':''","tickSize":-6,"labelPadding":12,"titlePadding":6,"labelFlush":false,"labelOverlap":false}}
},
"layer":[
{"data":{"name":"rc"},"mark":{"type":"line","color":"#2DC82D","strokeWidth":2,"strokeDash":[11,7],"clip":true},"encoding":{}},
{"data":{"name":"rf"},"mark":{"type":"line","color":"#5FA8A8","strokeWidth":1.6,"strokeDash":[12,3,2,3,2,3],"clip":true},"encoding":{}},
{"data":{"name":"rleg"},"mark":{"type":"point","filled":true,"opacity":1,"size":0},
"encoding":{"x":{"datum":-0.5,"type":"quantitative"},"y":{"datum":0.5,"type":"quantitative"},
"fill":{"field":"s","type":"nominal","scale":{"domain":["A","B","C","D","E","F"],"range":["#1DBF1D","transparent","#2DC82D","#5BA4A4","transparent","#5FA8A8"]},
"legend":{"title":null,"orient":"none","legendX":37.5,"legendY":498,"padding":0,"symbolSize":441,"symbolStrokeWidth":1.3,"symbolOpacity":1,"rowPadding":23,"labelOffset":72,"labelFont":"Liberation Sans","labelFontWeight":"bold","labelFontSize":27,"labelColor":"black","labelLimit":800,
"labelExpr":"datum.value=='A' ? 'θ = 120°, Direct Photography' : datum.value=='B' ? 'θ = 120°, PLLIF' : datum.value=='C' ? 'θ = 120°, Cᴅ = 0.2' : datum.value=='D' ? 'θ = 150°, Direct Photography' : datum.value=='E' ? 'θ = 150°, PLLIF' : 'θ = 150°, Cᴅ = 0.2'"}},
"stroke":{"field":"s","type":"nominal","scale":{"domain":["A","B","C","D","E","F"],"range":["#111111","#22CC22","transparent","#1a2e2e","#5BA4A4","transparent"]}},
"shape":{"field":"s","type":"nominal","scale":{"domain":["A","B","C","D","E","F"],"range":["triangle-up","triangle-up","M-6.05,-0.14H-4.53V0.14H-6.05ZM-3.39,-0.14H-1.87V0.14H-3.39ZM-0.73,-0.14H0.79V0.14H-0.73ZM1.93,-0.14H3.45V0.14H1.93ZM4.59,-0.14H6.05V0.14H4.59Z","circle","circle","M-6.05,-0.14H-4.35V0.14H-6.05ZM-3.97,-0.14H-3.78V0.14H-3.97ZM-3.49,-0.14H-3.3V0.14H-3.49ZM-2.92,-0.14H-1.22V0.14H-2.92ZM-0.84,-0.14H-0.65V0.14H-0.84ZM-0.36,-0.14H-0.17V0.14H-0.36ZM0.21,-0.14H1.91V0.14H0.21ZM2.29,-0.14H2.48V0.14H2.29ZM2.77,-0.14H2.96V0.14H2.77ZM3.34,-0.14H5.04V0.14H3.34ZM5.42,-0.14H5.61V0.14H5.42ZM5.9,-0.14H6.05V0.14H5.9Z"]}}}},
{"data":{"name":"re"},"mark":{"type":"point","shape":"circle","filled":false,"color":"#5BA4A4","size":200,"strokeWidth":1.1,"opacity":1,"clip":true}},
{"data":{"name":"rd"},"mark":{"type":"point","shape":"circle","filled":true,"fill":"#5BA4A4","stroke":"#1a2e2e","size":190,"strokeWidth":1,"opacity":1,"clip":true}},
{"data":{"name":"rb"},"mark":{"type":"point","shape":"triangle-up","filled":false,"color":"#22CC22","size":170,"strokeWidth":1.1,"opacity":1,"clip":true}},
{"data":{"name":"ra"},"mark":{"type":"point","shape":"triangle-up","filled":true,"fill":"#1DBF1D","stroke":"#111111","size":170,"strokeWidth":0.8,"opacity":1,"clip":true}},
{"data":{"name":"ann"},"mark":{"type":"text","font":"Liberation Serif","fontSize":19,"color":"black"},"encoding":{"text":{"field":"t"}}}
]
},
{
"width":450,"height":396,
"title":{"text":"(b)","orient":"bottom","anchor":"middle","frame":"group","dx":-27,"offset":17,"font":"Liberation Serif","fontSize":24,"fontWeight":"normal"},
"encoding":{
"x":{"field":"x","type":"quantitative","scale":{"type":"log","domain":[0.003,4.9],"nice":false},"axis":{"title":"log(x/dq)","values":[0.003,0.004,0.005,0.006,0.007,0.008,0.009,0.01,0.02,0.03,0.04,0.05,0.06,0.07,0.08,0.09,0.1,0.2,0.3,0.4,0.5,0.6,0.7,0.8,0.9,1,2,3,4],"labelExpr":"datum.value==0.001?'10⁻³':datum.value==0.01?'10⁻²':datum.value==0.1?'10⁻¹':datum.value==1?'10⁰':datum.value==10?'10¹':datum.value==100?'10²':''","tickSize":-5,"labelPadding":9,"titlePadding":5,"labelFlush":false,"labelOverlap":false}},
"y":{"field":"y","type":"quantitative","scale":{"type":"log","domain":[0.0031,100],"nice":false},"axis":{"title":"log(y/dq)","values":[0.004,0.005,0.006,0.007,0.008,0.009,0.01,0.02,0.03,0.04,0.05,0.06,0.07,0.08,0.09,0.1,0.2,0.3,0.4,0.5,0.6,0.7,0.8,0.9,1,2,3,4,5,6,7,8,9,10,20,30,40,50,60,70,80,90,100],"labelExpr":"datum.value==0.001?'10⁻³':datum.value==0.01?'10⁻²':datum.value==0.1?'10⁻¹':datum.value==1?'10⁰':datum.value==10?'10¹':datum.value==100?'10²':''","tickSize":-5,"labelPadding":10,"titlePadding":5,"labelFlush":false,"labelOverlap":false}},
"color":{"field":"s","type":"nominal","scale":{"domain":["c21","c44","c65","c86","c105","t21","t44","t65","t86","t105","f"],"range":["#E00000","#00C000","#2222FF","#4FA0A0","#FF99EE","#E00000","#00C000","#2222FF","#4FA0A0","#FF99EE","#1414A0"]},
"legend":{"title":null,"orient":"none","legendX":42.75,"legendY":18.5,"padding":0,"symbolSize":210,"symbolStrokeWidth":1.3,"rowPadding":3.8,"labelOffset":34.5,"labelFont":"Liberation Sans","labelFontWeight":"bold","labelFontSize":13,"labelColor":"black","labelLimit":500,
"labelExpr":"substring(datum.value,0,1)=='c' ? 'q = ' + substring(datum.value,1) : substring(datum.value,0,1)=='t' ? 'PLLIF exp., q = ' + substring(datum.value,1) : 'Fuller et al. [2000]'"}}
},
"layer":[
{"data":{"name":"pb"},"mark":{"type":"point","filled":false,"size":140,"strokeWidth":1.3,"opacity":1,"clip":true},"encoding":{"shape":{"field":"s","type":"nominal","scale":{"domain":["c21","c44","c65","c86","c105","t21","t44","t65","t86","t105","f"],"range":["circle","circle","circle","circle","circle","triangle-up","triangle-up","triangle-up","triangle-up","triangle-up","M-4.35,0H4.35"]}}}},
{"data":{"name":"lb"},"mark":{"type":"line","strokeWidth":1.6,"clip":true},"encoding":{}}
]
},
{
"width":10,"height":420,"view":{"stroke":null},
"data":{"values":[{"n":0}]},
"mark":{"type":"point","opacity":0},
"encoding":{}
},
{
"width":447,"height":394,
"title":{"text":"(c)","orient":"bottom","anchor":"middle","frame":"group","dx":-27,"offset":15,"font":"Liberation Serif","fontSize":24,"fontWeight":"normal"},
"encoding":{
"x":{"field":"x","type":"quantitative","scale":{"type":"log","domain":[0.00026,1],"nice":false},"axis":{"title":"log (x/dq)","values":[0.0003,0.0004,0.0005,0.0006,0.0007,0.0008,0.0009,0.001,0.002,0.003,0.004,0.005,0.006,0.007,0.008,0.009,0.01,0.02,0.03,0.04,0.05,0.06,0.07,0.08,0.09,0.1,0.2,0.3,0.4,0.5,0.6,0.7,0.8,0.9,1],"labelExpr":"datum.value==0.001?'10⁻³':datum.value==0.01?'10⁻²':datum.value==0.1?'10⁻¹':datum.value==1?'10⁰':datum.value==10?'10¹':datum.value==100?'10²':''","tickSize":-5,"labelPadding":9,"titlePadding":5,"labelFlush":false,"labelOverlap":false}},
"y":{"field":"y","type":"quantitative","scale":{"type":"log","domain":[0.01,100],"nice":false},"axis":{"title":"log (y/dq)","values":[0.01,0.02,0.03,0.04,0.05,0.06,0.07,0.08,0.09,0.1,0.2,0.3,0.4,0.5,0.6,0.7,0.8,0.9,1,2,3,4,5,6,7,8,9,10,20,30,40,50,60,70,80,90,100],"labelExpr":"datum.value==0.001?'10⁻³':datum.value==0.01?'10⁻²':datum.value==0.1?'10⁻¹':datum.value==1?'10⁰':datum.value==10?'10¹':datum.value==100?'10²':''","tickSize":-5,"labelPadding":10,"titlePadding":5,"labelFlush":false,"labelOverlap":false}},
"color":{"field":"s","type":"nominal","scale":{"domain":["c21","c44","c65","c86","c105","t21","t44","t65","t86","t105","w","f"],"range":["#E00000","#00C000","#2222FF","#4FA0A0","#FF99EE","#E00000","#00C000","#2222FF","#4FA0A0","#FF99EE","#000000","#1A1AB0"]},
"legend":{"title":null,"orient":"none","legendX":40.35,"legendY":6.35,"padding":0,"symbolSize":177,"symbolStrokeWidth":1.3,"rowPadding":3.2,"labelOffset":35.35,"labelFont":"Liberation Sans","labelFontWeight":"bold","labelFontSize":13,"labelColor":"black","labelLimit":600,
"labelExpr":"substring(datum.value,0,1)=='c' ? 'q = ' + substring(datum.value,1) : substring(datum.value,0,1)=='t' ? 'PLLIF exp., q = ' + substring(datum.value,1) : datum.value=='w' ? 'y/dq = 1.37(x/dq)⁰·⁵, Wu et al. [1997]' : 'y/dq = 0.85(x/dq)⁰·⁵, Fuller et al. [2000]'"}}
},
"layer":[
{"data":{"name":"pc"},"mark":{"type":"point","filled":false,"size":140,"strokeWidth":1.3,"opacity":1,"clip":true},"encoding":{"shape":{"field":"s","type":"nominal","scale":{"domain":["c21","c44","c65","c86","c105","t21","t44","t65","t86","t105","w","f"],"range":["circle","circle","circle","circle","circle","triangle-up","triangle-up","triangle-up","triangle-up","triangle-up","M-4.8,0H4.8","M-4.8,0H4.8"]}}}},
{"data":{"name":"lc"},"mark":{"type":"line","strokeWidth":1.6,"clip":true},"encoding":{"strokeDash":{"field":"s","type":"nominal","scale":{"domain":["c21","c44","c65","c86","c105","t21","t44","t65","t86","t105","w","f"],"range":[[1,0],[1,0],[1,0],[1,0],[1,0],[1,0],[1,0],[1,0],[1,0],[1,0],[1,0],[8,4,2,4]]}}}}
]
},
{
"width":529,"height":500,"view":{"stroke":null},
"title":{"text":["Fig.\u00a0 10\u00a0 Results\u00a0 of\u00a0 correlated\u00a0 trajectory\u00a0 at\u00a0 reversed","\u200b\u00a0\u00a0\u00a0\u00a0\u00a0\u00a0\u00a0\u00a0\u00a0\u00a0injection\u00a0 (θ>90°)"],"orient":"top","anchor":"start","frame":"group","dx":-35,"offset":62,"font":"Liberation Sans","fontSize":24,"fontWeight":"normal","lineHeight":37,"color":"black"},
"data":{"name":"para"},
"mark":{"type":"text","align":"left","baseline":"middle","font":"Liberation Serif, Noto Sans CJK KR","fontSize":25,"dx":-35,"dy":-37,"color":"black"},
"encoding":{
"x":{"datum":0,"type":"quantitative","scale":{"domain":[0,1]},"axis":null},
"y":{"field":"n","type":"ordinal","scale":{"type":"point","padding":0},"axis":null},
"text":{"field":"t"}
}
}
],
"config":{
"font":"Liberation Sans",
"view":{"stroke":"black","strokeWidth":2},
"axis":{"grid":false,"domainColor":"black","domainWidth":2,"tickColor":"black","tickWidth":1.3,"labelColor":"black","titleColor":"black","labelFont":"Liberation Sans","labelFontSize":17,"titleFont":"Liberation Sans","titleFontSize":19,"titleFontWeight":"bold"},
"title":{"color":"black"}
}
}
